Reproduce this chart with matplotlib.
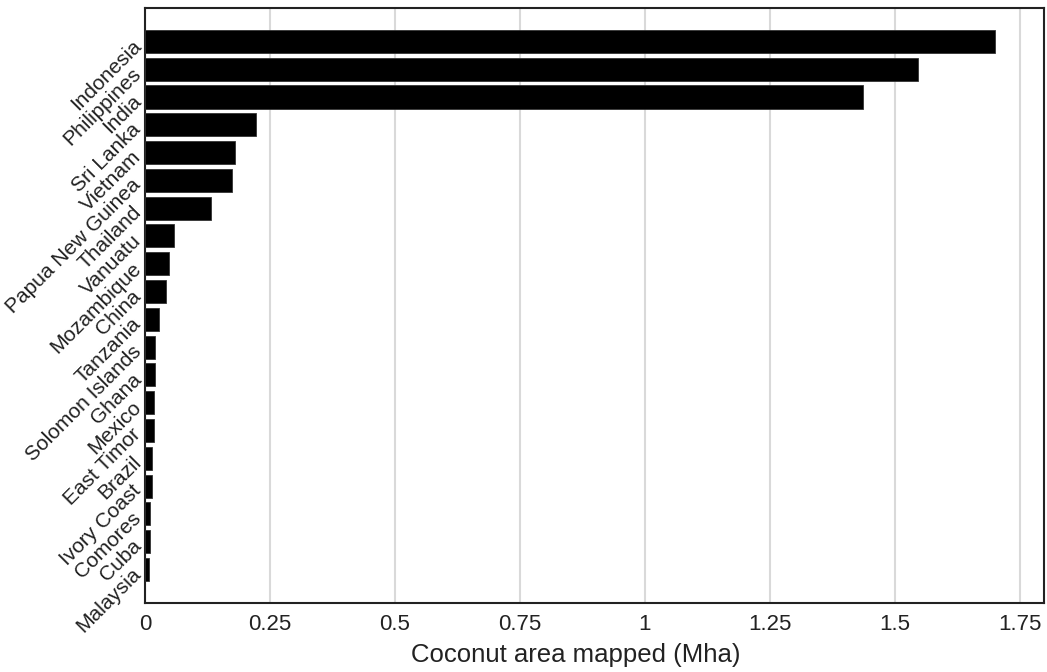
import matplotlib.pyplot as plt

plt.rcParams["font.family"] = ["Liberation Sans", "DejaVu Sans"]

# countries, largest first
countries = ["Indonesia", "Philippines", "India", "Sri Lanka", "Vietnam",
             "Papua New Guinea", "Thailand", "Vanuatu", "Mozambique", "China",
             "Tanzania", "Solomon Islands", "Ghana", "Mexico", "East Timor",
             "Brazil", "Ivory Coast", "Comores", "Cuba", "Malaysia"]
# coconut area mapped (Mha)
area = [1.70, 1.546, 1.436, 0.222, 0.180,
        0.175, 0.132, 0.057, 0.047, 0.042,
        0.028, 0.020, 0.019, 0.018, 0.017,
        0.013, 0.013, 0.009, 0.009, 0.008]

xticks = [0, 0.25, 0.5, 0.75, 1, 1.25, 1.5, 1.75]
xticklabels = ["0", "0.25", "0.5", "0.75", "1", "1.25", "1.5", "1.75"]

fig, ax = plt.subplots(figsize=(10.47, 6.72), dpi=100)
fig.subplots_adjust(left=0.1385, right=0.997, top=0.988, bottom=0.103)

pos = list(range(len(countries)))
ax.barh(pos, area, height=0.83, color="black", edgecolor="#333333",
        linewidth=0.6, zorder=3)

ax.set_ylim(len(countries) - 1 + 1.2, -1.2)
ax.set_xlim(0, 1.798)

ax.set_xticks(xticks)
ax.set_xticklabels(xticklabels, fontsize=16, color="#222222")
ax.set_yticks(pos)
ax.set_yticklabels(countries, fontsize=15, rotation=45, ha="right",
                   rotation_mode="anchor", color="#222222")
ax.tick_params(axis="both", length=0)
ax.tick_params(axis="y", pad=6)
ax.tick_params(axis="x", pad=8)

ax.grid(axis="x", color="#d9d9d9", linewidth=1.5, zorder=0)
for s in ax.spines.values():
    s.set_linewidth(1.5)
    s.set_color("#222222")

ax.set_xlabel("Coconut area mapped (Mha)", fontsize=18.5, color="#222222")
ax.xaxis.set_label_coords(0.479, -0.068)

fig.savefig("out.png", dpi=100)
